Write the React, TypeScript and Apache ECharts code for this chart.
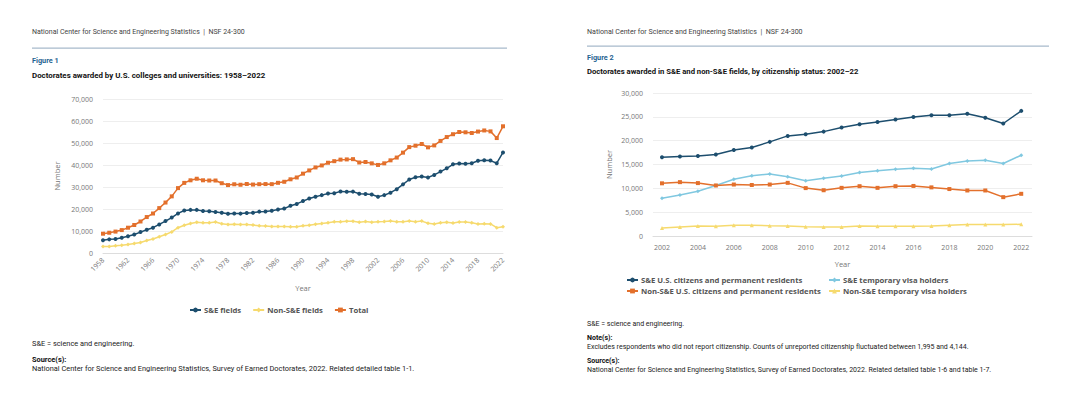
import React, { useEffect, useRef } from "react";
import * as echarts from "echarts";

const years1 = Array.from({ length: 65 }, (_, i) => String(1958 + i));
const seFields = [
  5800, 6200, 6400, 6900, 7600, 8400, 9500, 10600, 11500, 13000, 14500, 16100, 18000, 19300, 19600, 19600,
  19100, 19000, 18600, 18300, 17800, 18000, 17900, 18200, 18300, 18800, 18900, 19200, 19800, 20200, 21500,
  22300, 23600, 24800, 25600, 26300, 27000, 27200, 28000, 27800, 27900, 26900, 26800, 26600, 25600, 26300,
  27400, 29000, 31200, 33400, 34400, 34800, 34300, 35500, 37000, 38500, 40300, 40700, 40600, 40800, 41900,
  42200, 42000, 40800, 45700,
];
const nonSeFields = [
  3000, 3000, 3300, 3500, 3900, 4300, 4800, 5700, 6400, 7400, 8400, 9600, 11500, 12600, 13400, 14000,
  13800, 13800, 14100, 13300, 13000, 13100, 13000, 12900, 12700, 12400, 12300, 12000, 12000, 12100, 11900,
  11900, 12400, 12600, 13100, 13400, 13800, 14200, 14200, 14400, 14400, 14000, 14300, 14000, 14200, 14300,
  14500, 14200, 14200, 14500, 14200, 14500, 13500, 13200, 13700, 14000, 13600, 14100, 14100, 13700, 13200,
  13300, 13200, 11500, 11900,
];
const totalFields = [
  8773, 9213, 9733, 10413, 11500, 12728, 14325, 16340, 17949, 20403, 22937, 25743, 29498, 31867, 33041,
  33755, 33047, 32952, 32946, 31716, 30875, 31239, 31020, 31356, 31111, 31280, 31337, 31297, 31902, 32370,
  33500, 34327, 36067, 37530, 38890, 39800, 41033, 41743, 42437, 42539, 42655, 41140, 41366, 40744, 40025,
  40761, 42118, 43383, 45617, 48132, 48777, 49553, 48028, 48908, 50944, 52704, 53989, 55003, 54861, 54552,
  55195, 55703, 55283, 52250, 57596,
];

const years2 = Array.from({ length: 21 }, (_, i) => 2002 + i);
const yearTicks2 = [2002, 2004, 2006, 2008, 2010, 2012, 2014, 2016, 2018, 2020, 2022];
const seCitizens = [
  16500, 16700, 16800, 17100, 18050, 18550, 19750, 21000, 21350, 21900, 22750, 23450, 23900, 24450, 24950,
  25350, 25350, 25650, 24800, 23600, 26250,
];
const seTemp = [
  7900, 8600, 9400, 10600, 11900, 12650, 13000, 12450, 11600, 12100, 12600, 13300, 13700, 14000, 14200,
  14050, 15200, 15750, 15900, 15200, 16950,
];
const nonSeCitizens = [
  11050, 11300, 11100, 10600, 10800, 10700, 10800, 11150, 10050, 9600, 10100, 10450, 10100, 10450, 10500,
  10200, 9850, 9550, 9550, 8150, 8850,
];
const nonSeTemp = [
  1700, 1900, 2100, 2050, 2250, 2250, 2150, 2100, 1950, 1900, 1900, 2100, 2050, 2050, 2050, 2100, 2250,
  2400, 2400, 2400, 2450,
];

const NAVY = "#1d4e6e";
const YELLOW = "#f6da6e";
const ORANGE = "#e3702c";
const LIGHTBLUE = "#80c8e0";

const TXT = "Roboto, 'Liberation Sans', sans-serif";
const CH = "'Open Sans', 'Noto Sans', sans-serif";

function txt(x: number, y: number, text: string, opts: any = {}) {
  return {
    type: "text",
    x,
    y,
    style: {
      text,
      fill: opts.fill || "#333",
      fontSize: opts.size || 7,
      fontWeight: opts.weight || "normal",
      fontFamily: opts.family || TXT,
      verticalAlign: "middle",
      align: opts.align || "left",
    },
  };
}

export default function App() {
  const ref = useRef<HTMLDivElement>(null);
  useEffect(() => {
    if (!ref.current) return;
    const chart = echarts.init(ref.current, null, { renderer: "svg" });
    const axisLabel = { color: "#777", fontSize: 7, fontFamily: CH };
    const nameStyle = { color: "#777", fontSize: 7.5, fontFamily: CH };
    const line = (name: string, data: any[], color: string, symbol: string, xi: number, size = 4) => ({
      type: "line",
      name,
      data,
      xAxisIndex: xi,
      yAxisIndex: xi,
      symbol,
      symbolSize: size,
      showSymbol: true,
      lineStyle: { color, width: 1.5 },
      itemStyle: { color },
      emphasis: { disabled: true },
    });
    const pairs = (vals: number[]) => years2.map((y, i) => [y, vals[i]]);
    const legendText = { color: "#555", fontSize: 7.7, fontWeight: "bold", fontFamily: CH, padding: [0, 0, 0, -2] };
    chart.setOption({
      animation: false,
      grid: [
        { left: 103, right: 577, top: 99, bottom: 155, containLabel: false },
        { left: 653, right: 48, top: 93, bottom: 172, containLabel: false },
      ],
      xAxis: [
        {
          type: "category",
          gridIndex: 0,
          data: years1,
          boundaryGap: false,
          axisLine: { lineStyle: { color: "#dddddd" } },
          axisTick: { show: false },
          axisLabel: { ...axisLabel, interval: 3, rotate: 45, margin: 6 },
          name: "Year",
          nameLocation: "middle",
          nameGap: 31,
          nameTextStyle: nameStyle,
        },
        {
          type: "value",
          gridIndex: 1,
          min: 2001.5,
          max: 2022.6,
          axisLine: { show: true, onZero: false, lineStyle: { color: "#dddddd" } },
          axisTick: { show: false },
          splitLine: { show: false },
          axisLabel: { ...axisLabel, margin: 8, customValues: yearTicks2, formatter: (v: number) => String(v) },
          name: "Year",
          nameLocation: "middle",
          nameGap: 24,
          nameTextStyle: nameStyle,
        },
      ],
      yAxis: [
        {
          type: "value",
          gridIndex: 0,
          min: 0,
          max: 70000,
          interval: 10000,
          axisLine: { show: false },
          axisTick: { show: false },
          splitLine: { lineStyle: { color: "#eeeeee" } },
          axisLabel: { ...axisLabel, margin: 10, formatter: (v: number) => v.toLocaleString("en-US") },
          name: "Number",
          nameLocation: "middle",
          nameGap: 42,
          nameTextStyle: nameStyle,
        },
        {
          type: "value",
          gridIndex: 1,
          min: 0,
          max: 30000,
          interval: 5000,
          axisLine: { show: false },
          axisTick: { show: false },
          splitLine: { lineStyle: { color: "#eeeeee" } },
          axisLabel: { ...axisLabel, margin: 10, formatter: (v: number) => v.toLocaleString("en-US") },
          name: "Number",
          nameLocation: "middle",
          nameGap: 40,
          nameTextStyle: nameStyle,
        },
      ],
      legend: [
        {
          left: 184,
          top: 301,
          itemWidth: 11,
          itemHeight: 6,
          itemGap: 11,
          data: ["S&E fields", "Non-S&E fields", "Total"],
          textStyle: legendText,
        },
        {
          left: 621,
          top: 271,
          orient: "vertical",
          itemWidth: 11,
          itemHeight: 6,
          itemGap: 3,
          data: ["S&E U.S. citizens and permanent residents", "Non-S&E U.S. citizens and permanent residents"],
          textStyle: legendText,
        },
        {
          left: 823,
          top: 271,
          orient: "vertical",
          itemWidth: 11,
          itemHeight: 6,
          itemGap: 3,
          data: ["S&E temporary visa holders", "Non-S&E temporary visa holders"],
          textStyle: legendText,
        },
      ],
      series: [
        line("S&E fields", seFields, NAVY, "circle", 0),
        line("Non-S&E fields", nonSeFields, YELLOW, "diamond", 0),
        line("Total", totalFields, ORANGE, "rect", 0),
        line("S&E U.S. citizens and permanent residents", pairs(seCitizens), NAVY, "circle", 1),
        line("S&E temporary visa holders", pairs(seTemp), LIGHTBLUE, "diamond", 1),
        line("Non-S&E U.S. citizens and permanent residents", pairs(nonSeCitizens), ORANGE, "rect", 1),
        line("Non-S&E temporary visa holders", pairs(nonSeTemp), YELLOW, "triangle", 1),
      ],
      graphic: [
        txt(32, 32, "National Center for Science and Engineering Statistics  |  NSF 24-300", { fill: "#444", size: 7 }),
        { type: "rect", shape: { x: 32, y: 47.5, width: 475, height: 1.3 }, style: { fill: "#a7bacb" } },
        txt(32, 60, "Figure 1", { fill: "#1f6391", weight: "bold", size: 7.3 }),
        txt(32, 75, "Doctorates awarded by U.S. colleges and universities: 1958–2022", {
          fill: "#111",
          weight: "bold",
          size: 7.9,
        }),
        txt(32, 343, "S&E = science and engineering.", { fill: "#222", size: 7.4 }),
        txt(32, 359, "Source(s):", { fill: "#111", weight: "bold", size: 7.4 }),
        txt(
          32,
          368,
          "National Center for Science and Engineering Statistics, Survey of Earned Doctorates, 2022. Related detailed table 1-1.",
          { fill: "#222", size: 7.4 }
        ),
        txt(587, 31, "National Center for Science and Engineering Statistics  |  NSF 24-300", { fill: "#444", size: 7.1 }),
        { type: "rect", shape: { x: 587, y: 45.5, width: 462, height: 1.3 }, style: { fill: "#a7bacb" } },
        txt(587, 57, "Figure 2", { fill: "#1f6391", weight: "bold", size: 7.3 }),
        txt(587, 71, "Doctorates awarded in S&E and non-S&E fields, by citizenship status: 2002–22", {
          fill: "#111",
          weight: "bold",
          size: 7.7,
        }),
        txt(587, 324, "S&E = science and engineering.", { fill: "#222" }),
        txt(587, 338, "Note(s):", { fill: "#111", weight: "bold" }),
        txt(
          587,
          347,
          "Excludes respondents who did not report citizenship. Counts of unreported citizenship fluctuated between 1,995 and 4,144.",
          { fill: "#222" }
        ),
        txt(587, 361, "Source(s):", { fill: "#111", weight: "bold" }),
        txt(
          587,
          370,
          "National Center for Science and Engineering Statistics, Survey of Earned Doctorates, 2022. Related detailed table 1-6 and table 1-7.",
          { fill: "#222" }
        ),
      ],
    });
    return () => chart.dispose();
  }, []);
  return (
    <div
      ref={ref}
      style={{ position: "absolute", left: 0, top: 0, width: 1080, height: 408, background: "#fff" }}
    />
  );
}
